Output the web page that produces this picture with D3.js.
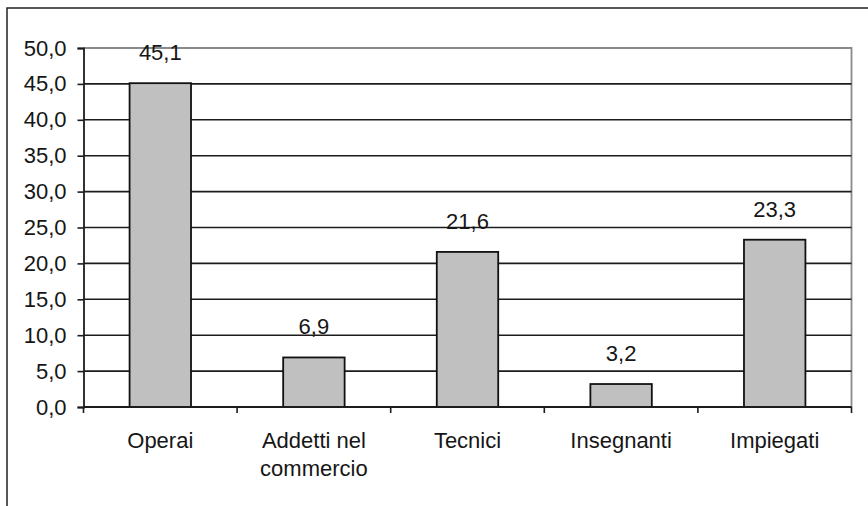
<!DOCTYPE html>
<html>
<head>
<meta charset="utf-8">
<script src="https://cdn.jsdelivr.net/npm/d3@7/dist/d3.min.js"></script>
<style>
  html, body { margin: 0; padding: 0; background: #fff; }
  svg { display: block; }
  text { font-family: "Liberation Sans", Arial, Helvetica, sans-serif; fill: #161616; }
</style>
</head>
<body>
<svg id="chart" width="868" height="506"></svg>
<script>
// Categories (some labels wrap onto two lines)
const categories = ["Operai", "Addetti nel commercio", "Tecnici", "Insegnanti", "Impiegati"];
const categoryLines = [["Operai"], ["Addetti nel", "commercio"], ["Tecnici"], ["Insegnanti"], ["Impiegati"]];
// Percentages per category
const values = [45.1, 6.9, 21.6, 3.2, 23.3];
// Y axis ticks
const yTicks = [0, 5, 10, 15, 20, 25, 30, 35, 40, 45, 50];

const fmt = v => d3.format(".1f")(v).replace(".", ",");

const svg = d3.select("#chart");
const plotLeft = 83.5, plotRight = 851.5, plotTop = 48, plotBottom = 407;

// Outer frame (runs past the right and bottom edges)
svg.append("rect")
  .attr("x", 7).attr("y", 8)
  .attr("width", 900).attr("height", 560)
  .attr("fill", "none").attr("stroke", "#222").attr("stroke-width", 1.5);

const x = d3.scaleBand()
  .domain(categories)
  .range([plotLeft, plotRight])
  .paddingInner(0.6)
  .paddingOuter(0.3);

const y = d3.scaleLinear().domain([0, 50]).range([plotBottom, plotTop]);

// Plot area border (top and right) in grey
svg.append("path")
  .attr("d", `M${plotLeft},${plotTop}H${plotRight}V${plotBottom}`)
  .attr("fill", "none").attr("stroke", "#8a8a8a").attr("stroke-width", 1.8);

// Horizontal gridlines
svg.append("g")
  .selectAll("line")
  .data(yTicks.filter(t => t > 0 && t < 50))
  .join("line")
  .attr("x1", plotLeft).attr("x2", plotRight)
  .attr("y1", d => y(d)).attr("y2", d => y(d))
  .attr("stroke", "#1c1c1c").attr("stroke-width", 1.6);

// Bars
svg.append("g")
  .selectAll("rect")
  .data(values)
  .join("rect")
  .attr("x", (d, i) => x(categories[i]))
  .attr("y", d => y(d))
  .attr("width", x.bandwidth())
  .attr("height", d => plotBottom - y(d))
  .attr("fill", "#c0c0c0")
  .attr("stroke", "#111").attr("stroke-width", 1.8);

// Value labels
svg.append("g")
  .selectAll("text")
  .data(values)
  .join("text")
  .attr("x", (d, i) => x(categories[i]) + x.bandwidth() / 2)
  .attr("y", d => y(d) - 23)
  .attr("text-anchor", "middle")
  .style("font-size", "22px")
  .text(d => fmt(d));

// Y axis
const yAxis = d3.axisLeft(y).tickValues(yTicks).tickSize(6).tickPadding(11).tickFormat(fmt);
const gy = svg.append("g").attr("transform", `translate(${plotLeft},0)`).call(yAxis);
gy.select(".domain").attr("stroke", "#1c1c1c").attr("stroke-width", 1.8);
gy.selectAll(".tick line").attr("stroke", "#1c1c1c").attr("stroke-width", 1.6);
gy.selectAll(".tick text").style("font-size", "22px").attr("fill", "#161616")
  .style("font-family", "'Liberation Sans', Arial, sans-serif");

// X axis baseline with ticks at category boundaries
svg.append("line")
  .attr("x1", plotLeft).attr("x2", plotRight)
  .attr("y1", plotBottom).attr("y2", plotBottom)
  .attr("stroke", "#1c1c1c").attr("stroke-width", 1.8);
const step = x.step();
const bounds = d3.range(categories.length + 1).map(i => plotLeft + i * step);
svg.append("g")
  .selectAll("line")
  .data(bounds)
  .join("line")
  .attr("x1", d => d).attr("x2", d => d)
  .attr("y1", plotBottom).attr("y2", plotBottom + 6)
  .attr("stroke", "#1c1c1c").attr("stroke-width", 1.6);

// Category labels
const cl = svg.append("g")
  .selectAll("text")
  .data(categories)
  .join("text")
  .attr("text-anchor", "middle")
  .style("font-size", "22px");
cl.each(function(c, i) {
  const t = d3.select(this);
  categoryLines[i].forEach((line, j) => {
    t.append("tspan")
      .attr("x", x(c) + x.bandwidth() / 2)
      .attr("y", 448 + j * 28)
      .text(line);
  });
});
</script>
</body>
</html>
